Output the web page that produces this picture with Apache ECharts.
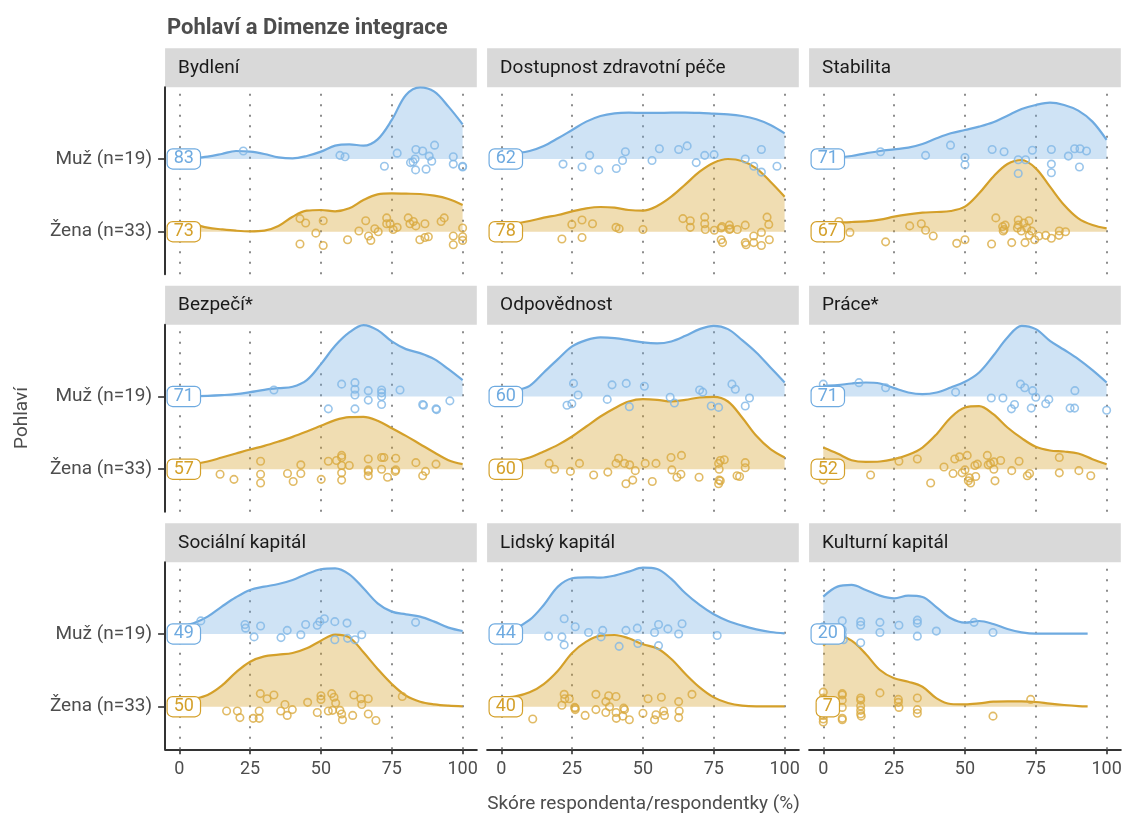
<!DOCTYPE html>
<html><head><meta charset="utf-8">
<script src="https://cdn.jsdelivr.net/npm/echarts@6/dist/echarts.min.js"></script>
<style>html,body{margin:0;padding:0;background:#fff}#chart{width:1123px;height:814px}</style>
</head><body><div id="chart"></div><script>
// ---------- DATA ----------
const panelNames = ['Bydlení','Dostupnost zdravotní péče','Stabilita','Bezpečí*','Odpovědnost','Práce*','Sociální kapitál','Lidský kapitál','Kulturní kapitál'];
const groupLabels = ['Žena (n=33)','Muž (n=19)']; // y = 1, 2
const muzMedian  = [83,62,71,71,60,71,49,44,20];
const zenaMedian = [73,78,67,57,60,52,50,40,7];
const xTicks = [0,25,50,75,100];
const yTicks = [1,2];

// density curve sample positions (score %)
const DENS_X = [0,5,10,15,20,25,30,35,40,45,50,55,60,65,70,75,80,85,90,95,100];
const KULT_X = [0,5,10,15,20,25,30,35,40,45,50,55,60,65,70,75,80,85,90,93.3];
// density heights (218 = one ridge spacing)
const DENS_UNIT = 218;
const bydleniMuzDens      = [1,3,7,15,24,22,15,5,2,9,22,40,44,40,59,117,192,215,202,157,104];
const bydleniZenaDens     = [25,22,12,7,3,1,3,17,45,63,65,61,70,95,112,115,114,113,108,98,80];
const dostupnostMuzDens   = [12,17,24,39,62,87,112,129,137,139,138,138,139,139,138,136,134,129,119,102,77];
const dostupnostZenaDens  = [23,25,32,42,50,61,70,74,72,65,63,77,105,142,180,207,218,212,190,150,105];
const stabilitaMuzDens    = [4,5,9,17,24,29,34,45,62,77,87,97,110,130,150,162,169,162,145,112,57];
const stabilitaZenaDens   = [28,28,29,31,36,45,52,57,59,62,75,115,165,203,215,190,135,80,40,20,10];
const bezpeciMuzDens      = [0,1,2,4,7,13,20,25,29,49,97,152,192,214,199,165,142,130,112,82,49];
const bezpeciZenaDens     = [12,15,23,35,47,59,70,83,97,113,130,147,156,157,145,123,100,75,50,27,15];
const odpovednostMuzDens  = [12,18,32,72,112,150,169,177,175,169,162,159,165,182,202,212,202,169,132,87,42];
const odpovednostZenaDens = [20,25,35,53,73,98,128,158,183,203,210,208,203,208,215,217,203,155,100,60,35];
const praceMuzDens        = [32,34,39,42,39,25,12,7,12,27,44,72,122,177,212,202,167,140,112,79,42];
const praceZenaDens       = [65,47,27,22,23,30,43,65,105,155,185,189,165,125,93,67,56,53,47,30,15];
const socialniMuzDens     = [22,32,52,82,110,132,142,150,162,180,194,197,179,137,92,67,59,52,37,19,9];
const socialniZenaDens    = [15,23,35,63,103,135,151,156,161,175,198,216,208,163,113,68,33,15,7,3,1];
const lidskyMuzDens       = [15,19,42,87,142,167,170,169,175,187,199,195,165,122,87,59,39,25,14,6,2];
const lidskyZenaDens      = [28,31,43,68,108,161,195,213,215,205,187,175,143,98,58,28,11,3,1,1,1];
const kulturniMuzDens     = [112,142,147,132,115,107,115,111,80,47,34,39,30,15,5,1,1,1,1,1];
const kulturniZenaDens    = [183,213,198,158,110,85,75,60,25,8,7,10,15,16,16,14,9,5,2,1];

// respondents: [score %, vertical jitter in ridge units]
const bydleniMuzPts = [[22.6,0.11],[56.7,0.05],[58.5,0.03],[72.4,-0.10],[76.9,0.08],[81.6,-0.05],[83.2,0],[83.5,0.13],[83.4,-0.15],[85.9,0.11],[87.1,-0.14],[88.2,0.04],[89.1,-0.03],[90.1,0.19],[96.7,0.03],[96.7,-0.07],[100,-0.10],[100,-0.11],[82.5,-0.04]];
const bydleniZenaPts = [[42.6,0.18],[44.6,0.12],[42.6,-0.17],[48.2,-0.02],[50.8,0.15],[50.8,-0.19],[59.4,-0.11],[63.4,0.01],[65.8,0.15],[66.8,-0.06],[67.6,-0.12],[69.0,0.04],[70.2,0],[73.2,0.19],[73.2,0.11],[74.4,0.11],[76.9,0.06],[80.8,0.19],[81.4,0.11],[83.5,0.08],[84.9,-0.11],[86.7,0.11],[86.7,-0.08],[87.9,-0.07],[92.4,0.14],[93.5,0.19],[96.7,-0.06],[96.7,-0.18],[100,0.05],[100,-0.07],[100,-0.12],[75.5,0.03],[82.6,0.14]];
const dostupnostMuzPts = [[21.8,-0.07],[28.5,-0.11],[31.2,0.05],[34.4,-0.15],[40.6,-0.13],[42.8,-0.02],[43.8,0.10],[53.2,-0.02],[55.8,0.14],[62.6,0.13],[65.6,0.18],[68.8,-0.05],[71.8,0.05],[75.1,0.06],[86.1,0],[89.1,-0.10],[91.8,0.13],[91.8,-0.18],[97.3,-0.10]];
const dostupnostZenaPts = [[21.4,-0.10],[24.9,0.10],[28.5,0.16],[28.5,-0.08],[32.2,0.11],[40.5,0.06],[41.6,0.04],[50,0.03],[64.1,0.18],[66.7,0.15],[66.7,0.06],[71.8,0.20],[71.8,0.11],[72,0.03],[75.2,0.02],[77.6,0.05],[77.6,-0.11],[78.1,-0.15],[80.5,0.09],[80.5,0.03],[83.3,0.03],[86.1,0.09],[86.1,-0.15],[86.4,-0.18],[89.1,-0.06],[89.1,-0.15],[91.8,-0.01],[91.8,-0.19],[93.8,0.20],[94.4,0.10],[94.6,-0.11],[80.8,0.04],[77.9,0.07]];
const stabilitaMuzPts = [[20.2,0.10],[36.1,0.05],[44.9,0.19],[50,0.02],[50,-0.08],[59.6,0.13],[63.8,0.10],[68.8,-0.01],[68.8,-0.20],[71.4,-0.01],[73.8,0.12],[80.5,0.13],[80.5,-0.07],[80.5,-0.19],[86.5,0.04],[88.7,0.14],[90.6,0.14],[92.9,0.11],[90.4,-0.11]];
const stabilitaZenaPts = [[5.5,0.14],[9.4,-0.01],[22,-0.14],[30.5,0.08],[34.6,0.11],[36.1,0.02],[38.8,-0.06],[47.1,-0.16],[50,-0.11],[59.4,-0.17],[60.9,0.19],[63.3,0.07],[64.2,0.09],[63.5,0.01],[66.5,-0.15],[68.8,0.16],[68.8,0.09],[70.8,0.12],[72.6,0.15],[69.9,0.01],[71.2,-0.15],[73.5,0.01],[72.7,-0.05],[74.6,-0.11],[76.1,-0.06],[78.5,-0.05],[80.5,-0.09],[83.3,0.01],[83.2,-0.05],[85.5,0],[68.5,0.05],[63.8,0.03],[71.8,0.05]];
const bezpeciMuzPts = [[33.4,0.09],[52.6,-0.17],[57.3,0.17],[62,0.19],[62,0.10],[62,0.02],[62,-0.17],[66.7,0.08],[66.7,-0.05],[71.4,0.09],[71.4,0.05],[71.4,0],[71.4,-0.11],[77.9,0.09],[85.9,-0.11],[86.2,-0.12],[90.6,-0.17],[90.8,-0.18],[95.5,-0.06]];
const bezpeciZenaPts = [[14.4,-0.07],[19.3,-0.14],[28.7,0.11],[28.7,-0.07],[28.7,-0.19],[38.2,-0.06],[40.2,-0.17],[42.9,0.06],[42.9,-0.06],[50.1,-0.14],[52.6,0.11],[55.5,0.12],[57.3,0.19],[57.3,0.16],[57.3,0.05],[57.3,-0.05],[57.3,-0.15],[60,0.05],[66.7,0.14],[66.7,-0.01],[66.7,-0.03],[66.7,-0.09],[71.4,0.16],[72.2,0.16],[71.4,0],[73.5,-0.11],[76.4,0.15],[76.4,-0.01],[83.5,0.09],[85.9,-0.09],[86.9,-0.03],[90.6,0.07],[76.2,-0.03]];
const odpovednostMuzPts = [[23.2,-0.12],[24.9,-0.10],[25.5,0.18],[27.1,0.02],[37.4,-0.04],[39.1,0.16],[44.1,0.18],[45.2,-0.14],[50.5,0.14],[59.6,-0.01],[61.1,-0.09],[70,0.09],[71.1,0.06],[74.1,-0.13],[76.7,-0.15],[81.4,0.17],[82.6,0.10],[86.1,-0.13],[87.6,-0.02]];
const odpovednostZenaPts = [[16.9,0.08],[18.8,0],[24.4,-0.03],[27.6,0.08],[32.6,-0.08],[37.6,-0.04],[40.5,0.08],[41.4,0.15],[43.5,0.08],[45.3,0.06],[44,-0.20],[46.4,-0.15],[47.3,-0.02],[50.8,0.08],[53.3,-0.17],[54.6,0.08],[59.9,0.16],[60.2,-0.01],[62,-0.11],[63.4,-0.07],[63.6,0.19],[69.8,-0.11],[76.7,0.08],[77.3,0.12],[78.7,0.13],[76.9,0],[77.3,-0.16],[76.7,-0.20],[83.2,-0.09],[84.1,-0.10],[86.1,0.09],[86.1,0.02],[76.9,-0.15]];
const praceMuzPts = [[0,0.17],[12.6,0.19],[22,0.12],[46.7,0.06],[59.3,-0.02],[63.4,-0.02],[66.4,-0.17],[67.5,-0.11],[69.6,0.17],[71.1,0.12],[73.4,-0.16],[73.9,0.08],[75,-0.01],[78.5,-0.10],[79.6,-0.04],[87.1,-0.16],[88.7,-0.16],[88.8,0.08],[100,-0.19]];
const praceZenaPts = [[0,-0.15],[16.7,-0.08],[26.7,0.11],[33.2,0.14],[37.9,-0.19],[42.6,0.03],[45.8,-0.06],[46.4,0.14],[48.1,0.17],[49,-0.05],[50,-0.01],[50.8,0.19],[51.6,-0.12],[52,-0.19],[53.5,0.05],[53.8,-0.10],[57.9,0.19],[58.2,0.06],[60.2,0.10],[60.2,0],[60.6,-0.16],[62.6,0.12],[66.5,-0.02],[69.1,0.11],[72,-0.09],[72.8,-0.06],[83.3,0.16],[83.3,-0.05],[90.2,-0.02],[94.4,-0.09],[51.2,-0.16],[59,0.08],[54.4,0.07]];
const socialniMuzPts = [[7.6,0.18],[23.2,0.13],[23.4,0.08],[26.4,-0.04],[28.7,0.11],[35.9,-0.05],[38.1,0.05],[42.9,-0.01],[44.6,0.13],[48.7,0.12],[51.2,0.21],[54.9,0.17],[54.9,-0.08],[59.2,0.15],[59.4,-0.06],[62,-0.08],[64.4,-0.01],[83.4,0.16],[49.6,0.17]];
const socialniZenaPts = [[16.7,-0.06],[20.5,-0.06],[21.4,-0.15],[26.1,-0.16],[28.2,-0.06],[28.2,-0.16],[28.6,0.18],[31,0.11],[33.4,0.16],[35.8,-0.06],[37.3,0.03],[38.1,-0.12],[39.9,-0.04],[45.3,0.06],[48.7,-0.08],[50,0.15],[50,0.10],[52.6,-0.06],[53.8,0.18],[54.1,-0.05],[54.6,0.13],[55.2,0.05],[56.7,-0.05],[57.3,-0.10],[57.6,-0.18],[61.2,-0.12],[61.6,0.16],[64.1,0.11],[64.4,0.03],[66.7,0.11],[66.7,-0.10],[69.4,-0.19],[78.7,0.14]];
const lidskyMuzPts = [[16.7,-0.03],[21.4,-0.04],[22.2,0.21],[22.2,-0.15],[26.1,0.10],[30.8,0.02],[35.2,-0.04],[35.8,0.05],[41.6,-0.17],[44,0.05],[48,0.08],[48.2,-0.13],[54.1,0.02],[55.5,0.13],[55.5,-0.16],[58.8,0.07],[62.6,0],[63.8,0.14],[76.2,-0.02]];
const lidskyZenaPts = [[11.1,-0.17],[21.4,0.02],[22.2,0.17],[22.4,0.11],[24,0.11],[25.9,-0.01],[26.1,-0.04],[29.6,-0.12],[33.4,0.17],[33.4,-0.04],[36.9,0.07],[36.9,-0.08],[37.9,0.15],[38.2,0],[40.5,0.14],[40.5,-0.08],[40.6,-0.16],[42.9,-0.13],[43.5,-0.04],[45.2,-0.18],[50,-0.09],[51.8,0.11],[54.1,-0.18],[54.6,-0.11],[56.5,0.13],[57.3,-0.06],[57.6,-0.12],[62.6,0.07],[62.8,-0.06],[62.6,-0.15],[67.3,0.17],[26.1,-0.02],[43.2,-0.02]];
const kulturniMuzPts = [[6.7,0.18],[7.1,-0.08],[13.2,0.17],[13.2,0.12],[13.2,-0.12],[20,0.16],[20,0.02],[26.7,0.12],[33.2,0.19],[33.2,0.15],[33.2,-0.03],[39.9,0.04],[53.2,0.16],[59.9,0.02],[0,0.03],[0,-0.04],[6.7,-0.01],[0,0.10],[6.7,0.06]];
const kulturniZenaPts = [[0,0.20],[0,0.05],[0,0],[0,-0.08],[0,-0.12],[0,-0.17],[0,-0.21],[0,0.12],[0,0.08],[0,-0.03],[0,0.02],[0,-0.05],[6.7,0.18],[6.7,0.16],[6.7,0.09],[6.7,-0.01],[6.7,-0.16],[6.7,-0.18],[13.2,0.12],[13.2,0.09],[13.2,0.01],[13.2,-0.05],[13.2,-0.10],[13.4,-0.13],[20,0.19],[26.5,0.10],[26.5,0.06],[26.7,-0.01],[33.2,0.12],[33.2,-0.04],[33.2,-0.09],[59.9,-0.13],[73.2,0.10]];

const muzDensity  = [bydleniMuzDens,dostupnostMuzDens,stabilitaMuzDens,bezpeciMuzDens,odpovednostMuzDens,praceMuzDens,socialniMuzDens,lidskyMuzDens,kulturniMuzDens];
const zenaDensity = [bydleniZenaDens,dostupnostZenaDens,stabilitaZenaDens,bezpeciZenaDens,odpovednostZenaDens,praceZenaDens,socialniZenaDens,lidskyZenaDens,kulturniZenaDens];
const densityX    = [DENS_X,DENS_X,DENS_X,DENS_X,DENS_X,DENS_X,DENS_X,DENS_X,KULT_X];
const muzPoints   = [bydleniMuzPts,dostupnostMuzPts,stabilitaMuzPts,bezpeciMuzPts,odpovednostMuzPts,praceMuzPts,socialniMuzPts,lidskyMuzPts,kulturniMuzPts];
const zenaPoints  = [bydleniZenaPts,dostupnostZenaPts,stabilitaZenaPts,bezpeciZenaPts,odpovednostZenaPts,praceZenaPts,socialniZenaPts,lidskyZenaPts,kulturniZenaPts];

// ---------- LAYOUT / STYLE ----------
const FONT = 'Roboto';
const BLUE = '#6eaae0', BLUE_FILL = 'rgba(110,170,225,0.33)', BLUE_PT = '#7fb6e6';
const GOLD = '#d4a02a', GOLD_FILL = 'rgba(214,162,42,0.36)', GOLD_PT = '#d9aa40';
const COL_LEFT = [165.1, 487.1, 809.1];
const ROW_TOP = [87.3, 324.8, 562.3];
const PANEL_W = 311.7, PANEL_H = 187, STRIP_H = 39;
const Y_MUZ = 2, Y_ZENA = 1, LABEL_X = 1.6;

const grids = [], xAxes = [], yAxes = [], series = [], graphics = [];
for (let i = 0; i < 9; i++) {
  const r = Math.floor(i / 3), c = i % 3;
  grids.push({left: COL_LEFT[c], top: ROW_TOP[r], width: PANEL_W, height: PANEL_H, containLabel: false, outerBoundsMode: 'none'});
  const bottom = r === 2, left = c === 0;
  xAxes.push({
    gridIndex: i, type: 'value', min: -5, max: 105,
    axisLine: {show: bottom, onZero: false, lineStyle: {color: '#333', width: 2}},
    axisTick: {show: bottom, customValues: xTicks, length: 5, lineStyle: {color: '#333', width: 1.6}},
    axisLabel: {show: bottom, customValues: xTicks, fontSize: 18, color: '#4d4d4d', fontFamily: FONT, margin: 11},
    splitLine: {show: false}
  });
  yAxes.push({
    gridIndex: i, type: 'value', min: 0.414, max: 2.986,
    axisLine: {show: left, onZero: false, lineStyle: {color: '#333', width: 2}},
    axisTick: {show: left, customValues: yTicks, length: 7, lineStyle: {color: '#333', width: 1.6}},
    axisLabel: {show: left, customValues: yTicks, fontSize: 19, color: '#4d4d4d', fontFamily: FONT, margin: 13,
      formatter: v => groupLabels[Math.round(v) - 1]},
    splitLine: {show: false}
  });
  const xs = densityX[i];
  // Muž ridge (drawn first, with the dotted grid)
  series.push({
    type: 'line', xAxisIndex: i, yAxisIndex: i, smooth: 0.35, symbol: 'none', silent: true, z: 2,
    data: xs.map((x, k) => [x, Y_MUZ + muzDensity[i][k] / DENS_UNIT]),
    lineStyle: {color: BLUE, width: 2.2},
    areaStyle: {color: BLUE_FILL, origin: Y_MUZ, opacity: 1},
    markLine: {silent: true, z: 1, symbol: ['none', 'none'], label: {show: false}, animation: false,
      lineStyle: {color: '#8c8c8c', type: [2, 8.5], width: 2},
      emphasis: {disabled: true},
      data: xTicks.map(v => ({xAxis: v}))}
  });
  // Žena ridge
  series.push({
    type: 'line', xAxisIndex: i, yAxisIndex: i, smooth: 0.35, symbol: 'none', silent: true, z: 3,
    data: xs.map((x, k) => [x, Y_ZENA + zenaDensity[i][k] / DENS_UNIT]),
    lineStyle: {color: GOLD, width: 2.2},
    areaStyle: {color: GOLD_FILL, origin: Y_ZENA, opacity: 1}
  });
  // respondents
  series.push({
    type: 'scatter', xAxisIndex: i, yAxisIndex: i, symbolSize: 7.5, silent: true, z: 4,
    data: muzPoints[i].map(p => [p[0], Y_MUZ + p[1]]),
    itemStyle: {color: 'rgba(255,255,255,0)', borderColor: BLUE_PT, borderWidth: 1.6}
  });
  series.push({
    type: 'scatter', xAxisIndex: i, yAxisIndex: i, symbolSize: 7.5, silent: true, z: 4,
    data: zenaPoints[i].map(p => [p[0], Y_ZENA + p[1]]),
    itemStyle: {color: 'rgba(255,255,255,0)', borderColor: GOLD_PT, borderWidth: 1.6}
  });
  // median labels (custom series placed through the axes)
  series.push({
    type: 'custom', xAxisIndex: i, yAxisIndex: i, silent: true, z: 6, clip: false,
    encode: {x: 0, y: 1},
    data: [[LABEL_X, Y_MUZ, muzMedian[i], 0], [LABEL_X, Y_ZENA, zenaMedian[i], 1]],
    renderItem: (params, api) => {
      const p = api.coord([api.value(0), api.value(1)]);
      const col = api.value(3) === 0 ? BLUE : GOLD;
      return {type: 'text', x: p[0], y: p[1], style: {
        text: String(api.value(2)), fill: col, fontSize: 18, fontFamily: FONT,
        align: 'center', verticalAlign: 'middle', lineHeight: 16,
        backgroundColor: '#fff', borderColor: col, borderWidth: 1.2, borderRadius: 5, padding: [2, 6, 1, 6]}};
    }
  });
  // facet strip
  graphics.push({type: 'rect', silent: true, shape: {x: COL_LEFT[c], y: ROW_TOP[r] - STRIP_H, width: PANEL_W, height: STRIP_H}, style: {fill: '#d9d9d9'}});
  graphics.push({type: 'text', silent: true, x: COL_LEFT[c] + 13, y: ROW_TOP[r] - STRIP_H / 2,
    style: {text: panelNames[i], fill: '#1a1a1a', fontSize: 19, fontFamily: FONT, align: 'left', verticalAlign: 'middle'}});
}
graphics.push({type: 'text', silent: true, x: 643.5, y: 804,
  style: {text: 'Skóre respondenta/respondentky (%)', fill: '#4d4d4d', fontSize: 19, fontFamily: FONT, align: 'center', verticalAlign: 'middle'}});
graphics.push({type: 'text', silent: true, x: 22, y: 418, rotation: Math.PI / 2,
  style: {text: 'Pohlaví', fill: '#4d4d4d', fontSize: 19, fontFamily: FONT, align: 'center', verticalAlign: 'middle'}});

const chart = echarts.init(document.getElementById('chart'), null, {renderer: 'canvas'});
chart.setOption({
  animation: false,
  backgroundColor: '#fff',
  textStyle: {fontFamily: FONT},
  title: {text: 'Pohlaví a Dimenze integrace', left: 162, top: 12,
    textStyle: {fontSize: 22, fontWeight: 'bold', color: '#4d4d4d', fontFamily: FONT}},
  grid: grids, xAxis: xAxes, yAxis: yAxes, series: series, graphic: graphics
});
</script></body></html>
